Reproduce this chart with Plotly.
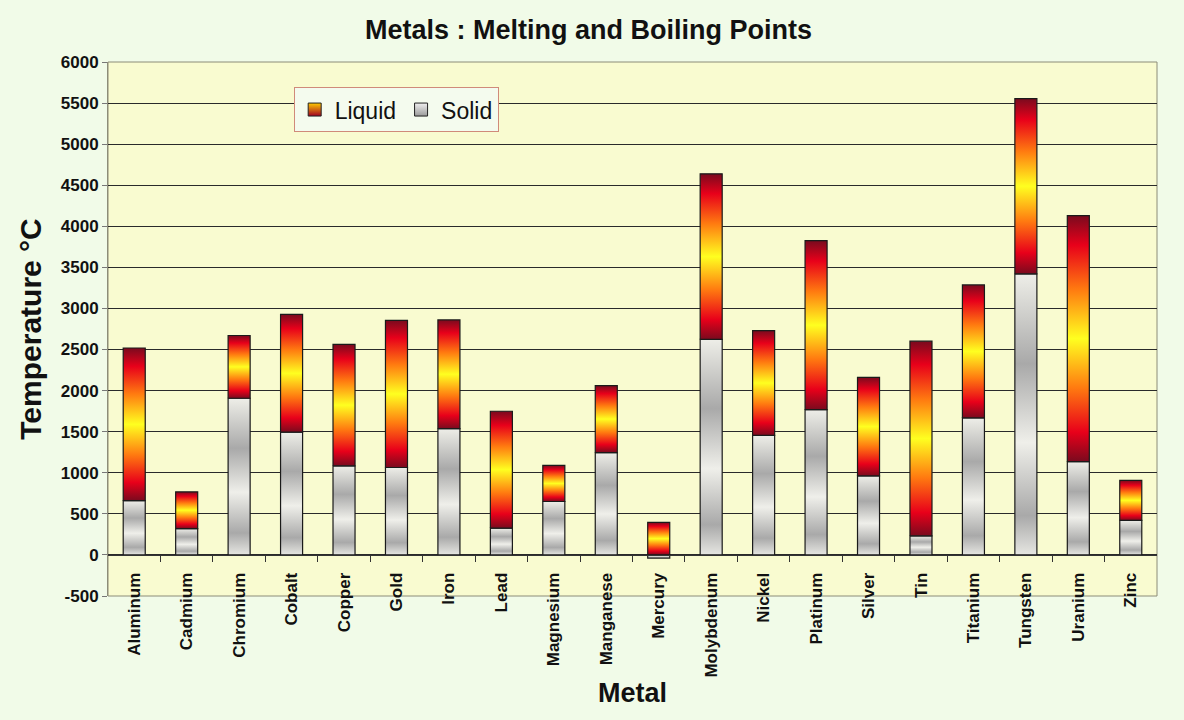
import plotly.graph_objects as go

metals = ["Aluminum", "Cadmium", "Chromium", "Cobalt", "Copper", "Gold", "Iron",
          "Lead", "Magnesium", "Manganese", "Mercury", "Molybdenum", "Nickel",
          "Platinum", "Silver", "Tin", "Titanium", "Tungsten", "Uranium", "Zinc"]
melting = [660, 321, 1907, 1495, 1085, 1064, 1538, 327, 650, 1246, -39, 2623,
           1455, 1768, 962, 232, 1668, 3422, 1135, 420]
boiling = [2519, 767, 2671, 2927, 2562, 2856, 2861, 1749, 1090, 2061, 357, 4639,
           2730, 3825, 2162, 2602, 3287, 5555, 4131, 907]
y_ticks = [-500, 0, 500, 1000, 1500, 2000, 2500, 3000, 3500, 4000, 4500, 5000, 5500, 6000]

font = "Liberation Sans, Arial, sans-serif"
half = 0.21  # half bar width, in category units

liquid_scale = [[0, "#7a0a1e"], [0.12, "#e8001a"], [0.3, "#ff7a10"], [0.5, "#ffff20"],
                [0.7, "#ff7a10"], [0.88, "#e8001a"], [1, "#7a0a1e"]]
solid_scale = [[0, "#e6e6e2"], [0.14, "#a9a9a9"], [0.4, "#efefea"], [0.68, "#a9a9a9"],
               [1, "#eeeee8"]]

fig = go.Figure()


def segment(i, lo, hi, scale, fill):
    fig.add_trace(go.Scatter(
        x=[i - half, i + half, i + half, i - half, i - half],
        y=[lo, lo, hi, hi, lo],
        mode="lines", fill="toself", fillcolor=fill,
        fillgradient=dict(type="vertical", colorscale=scale),
        line=dict(color="#1a1a1a", width=1.2),
        showlegend=False, hoverinfo="skip"))


# stacked like Excel: negatives stack below zero, positives above
for i in range(len(metals)):
    solid_top = melting[i]
    liquid_base = max(melting[i], 0)
    liquid_top = liquid_base + (boiling[i] - melting[i])
    segment(i, 0, solid_top, solid_scale, "#cccccc")
    segment(i, liquid_base, liquid_top, liquid_scale, "#ff9900")

# legend entries
fig.add_trace(go.Scatter(
    x=[None], y=[None], mode="markers", name="Liquid",
    marker=dict(symbol="square", size=13, color="#ffcc00",
                gradient=dict(type="vertical", color="#a00020"),
                line=dict(color="#222", width=1))))
fig.add_trace(go.Scatter(
    x=[None], y=[None], mode="markers", name="Solid",
    marker=dict(symbol="square", size=13, color="#f0f0f0",
                gradient=dict(type="vertical", color="#9a9a9a"),
                line=dict(color="#222", width=1))))

fig.update_layout(
    width=1184, height=720,
    margin=dict(l=108, r=27, t=62, b=124),
    paper_bgcolor="#f1fbe8",
    plot_bgcolor="#f9fbd0",
    font=dict(family=font, color="#111"),
    title=dict(text="<b>Metals : Melting and Boiling Points</b>",
               x=0.497, xref="container", xanchor="center",
               y=0.972, yref="container", font=dict(size=27, color="#111")),
    legend=dict(orientation="h", x=0.177, y=0.953, xanchor="left", yanchor="top",
                bgcolor="#f4fbee", bordercolor="#d08a7a", borderwidth=1,
                font=dict(size=23, color="#111"), itemwidth=30),
    shapes=[dict(type="rect", xref="x domain", yref="y domain", x0=0, x1=1, y0=0, y1=1,
                 line=dict(color="#8c8c78", width=1), layer="below")],
)

fig.update_xaxes(
    range=[-0.5, len(metals) - 0.5],
    anchor="free", position=500 / 6500,
    tickmode="array", tickvals=list(range(len(metals))), ticktext=metals,
    tickangle=-90, ticks="outside", ticklen=10, tickcolor="rgba(0,0,0,0)",
    tickfont=dict(size=17, weight="bold"),
    showline=True, linecolor="#333", linewidth=1,
    showgrid=False, zeroline=False,
    minor=dict(tickvals=[k + 0.5 for k in range(len(metals) - 1)], ticks="outside",
               ticklen=6, tickcolor="#333", showgrid=False),
    title=dict(text="<b>Metal</b>", font=dict(size=27), standoff=6),
)

fig.update_yaxes(
    range=[-500, 6000],
    tickmode="array", tickvals=y_ticks, ticktext=[str(v) for v in y_ticks],
    ticks="outside", ticklen=5, tickcolor="#777",
    tickfont=dict(size=17, weight="bold"),
    showline=True, linecolor="#8c8c78", linewidth=1,
    showgrid=True, gridcolor="#2a2a2a", gridwidth=1, zeroline=False,
    title=dict(text="<b>Temperature °C</b>", font=dict(size=30), standoff=10),
)

fig.write_html("out.html", config={"displayModeBar": False},
               post_script="document.body.style.margin='0';")
